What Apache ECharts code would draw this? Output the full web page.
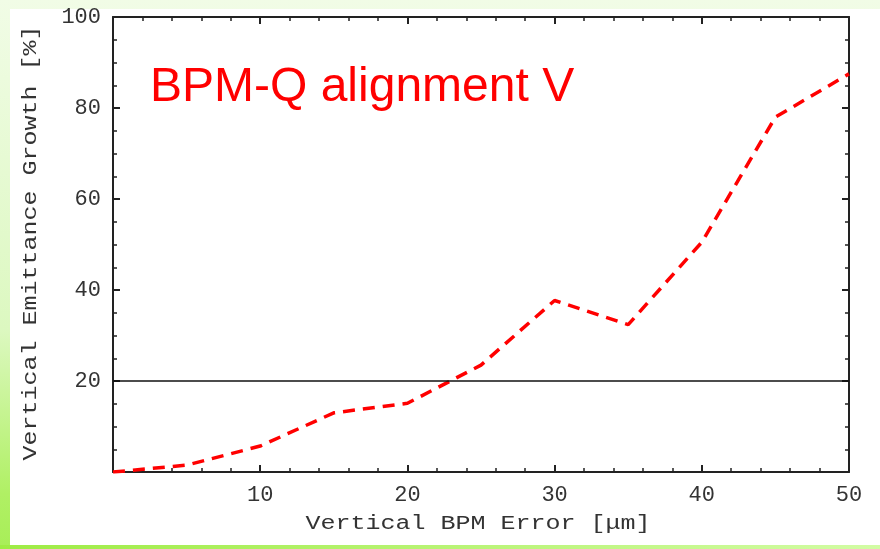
<!DOCTYPE html>
<html>
<head>
<meta charset="utf-8">
<title>BPM-Q alignment V</title>
<script src="https://cdn.jsdelivr.net/npm/echarts@6/dist/echarts.min.js"></script>
<style>
html, body { margin: 0; padding: 0; }
#main { width: 880px; height: 549px; }
</style>
</head>
<body>
<div id="main"></div>
<script>
// BPM error [um] vs vertical emittance growth [%]
var bpmError = [0, 5, 10, 15, 20, 25, 30, 35, 40, 45, 50];
var growth = [0, 1.5, 5.7, 13, 15.1, 23.5, 37.7, 32.4, 50.5, 78, 87.5];
var limitLevel = 20;
var xTicks = [0, 50, 10];   // min, max, interval
var yTicks = [0, 100, 20];

var points = bpmError.map(function (x, i) { return [x, growth[i]]; });

var chart = echarts.init(document.getElementById('main'));

function noZero(v) { return v === 0 ? '' : String(v); }

var axisCommon = {
  type: 'value',
  axisLine: { show: true, onZero: false, lineStyle: { color: '#222', width: 2 } },
  axisTick: { show: true, inside: true, length: 7, lineStyle: { color: '#222', width: 2 } },
  minorTick: { show: true, length: 4, lineStyle: { color: '#222', width: 1.5 } },
  splitLine: { show: false }
};

var labelStyle = { fontFamily: 'Liberation Mono', fontSize: 22, color: '#333', formatter: noZero };

var option = {
  animation: false,
  backgroundColor: 'transparent',
  graphic: [
    { type: 'rect', z: -10, silent: true, shape: { x: 0, y: 0, width: 880, height: 549 },
      style: { fill: new echarts.graphic.LinearGradient(0, 0, 0, 1, [
        { offset: 0, color: '#f1fce6' }, { offset: 0.6, color: '#dcf8c0' }, { offset: 0.9, color: '#b0f064' }, { offset: 1, color: '#a8ee58' }]) } },
    { type: 'rect', z: -9, silent: true, shape: { x: 0, y: 545, width: 880, height: 4 },
      style: { fill: new echarts.graphic.LinearGradient(0, 0, 1, 0, [
        { offset: 0, color: '#9eec44' }, { offset: 1, color: '#d2fca4' }]) } },
    { type: 'rect', z: -8, silent: true, shape: { x: 10, y: 9, width: 870, height: 536 },
      style: { fill: '#ffffff' } },
    { type: 'text', left: 150, top: 64, silent: true,
      style: { text: 'BPM-Q alignment V', fill: '#ff0000', font: '48px "Liberation Sans", Arial, sans-serif' } },
    { type: 'text', silent: true, x: 478, y: 524, scaleX: 1.25,
      style: { text: 'Vertical BPM Error [μm]', fill: '#333', font: '20px "Liberation Mono", monospace',
        textAlign: 'center', textVerticalAlign: 'middle' } },
    { type: 'text', silent: true, x: 31, y: 243, rotation: Math.PI / 2, scaleX: 1.25,
      style: { text: 'Vertical Emittance Growth [%]', fill: '#333', font: '20px "Liberation Mono", monospace',
        textAlign: 'center', textVerticalAlign: 'middle' } }
  ],
  grid: { left: 113, right: 31, top: 17, bottom: 77, containLabel: false },
  xAxis: [
    Object.assign({}, axisCommon, {
      position: 'bottom', min: xTicks[0], max: xTicks[1], interval: xTicks[2],
      minorTick: Object.assign({}, axisCommon.minorTick, { splitNumber: 5 }),
      axisLabel: Object.assign({ margin: 12 }, labelStyle)
    }),
    Object.assign({}, axisCommon, {
      position: 'top', min: xTicks[0], max: xTicks[1], interval: xTicks[2],
      minorTick: Object.assign({}, axisCommon.minorTick, { splitNumber: 5 }),
      axisLabel: { show: false }
    })
  ],
  yAxis: [
    Object.assign({}, axisCommon, {
      position: 'left', min: yTicks[0], max: yTicks[1], interval: yTicks[2],
      minorTick: Object.assign({}, axisCommon.minorTick, { splitNumber: 4 }),
      axisLabel: Object.assign({ margin: 12 }, labelStyle)
    }),
    Object.assign({}, axisCommon, {
      position: 'right', min: yTicks[0], max: yTicks[1], interval: yTicks[2],
      minorTick: Object.assign({}, axisCommon.minorTick, { splitNumber: 4 }),
      axisLabel: { show: false }
    })
  ],
  series: [{
    type: 'line',
    data: points,
    showSymbol: false,
    symbol: 'none',
    lineStyle: { color: '#ff0000', width: 3.5, type: [12, 8] },
    markLine: {
      silent: true,
      symbol: 'none',
      label: { show: false },
      lineStyle: { color: '#111', width: 1.5, type: 'solid' },
      data: [{ yAxis: limitLevel }]
    }
  }]
};

chart.setOption(option);
</script>
</body>
</html>
